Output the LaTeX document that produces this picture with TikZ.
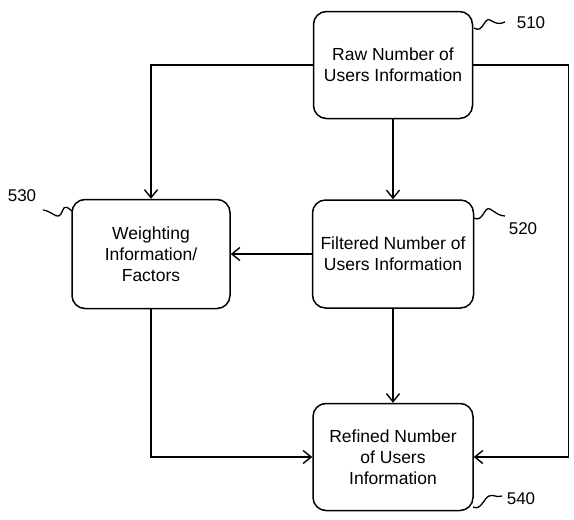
\documentclass[tikz,border=0pt]{standalone}
\usepackage{fontspec}
\setmainfont{Liberation Sans}
\usetikzlibrary{arrows.meta}
\begin{document}
\begin{tikzpicture}[x=1pt,y=-1pt,
  box/.style={draw,line width=1.5pt,rounded corners=13pt,align=center,
    font=\fontsize{17.5}{21}\selectfont,inner sep=0pt},
  arr/.style={line width=1.5pt,-{Straight Barb[length=8pt,width=13pt,line width=1.4pt]}},
  sq/.style={line width=1.3pt},
  lbl/.style={font=\fontsize{17}{20}\selectfont}]
\useasboundingbox (0,0) rectangle (574,520);
\node[box,minimum width=159pt,minimum height=107pt] (raw) at (393,65) {Raw Number of\\Users Information};
\node[box,minimum width=161pt,minimum height=108pt] (fil) at (393,254) {Filtered Number of\\Users Information};
\node[box,minimum width=158pt,minimum height=109pt] (wei) at (151,254) {Weighting\\Information/\\Factors};
\node[box,minimum width=160pt,minimum height=107pt] (ref) at (393,457) {Refined Number\\of Users\\Information};
\node[lbl] (l510) at (531,23) {510};
\node[lbl] (l520) at (523,229) {520};
\node[lbl] (l530) at (22,196) {530};
\node[lbl] (l540) at (521,499) {540};
\draw[arr] (raw.south) -- (fil.north);
\draw[arr] (fil.south) -- (ref.north);
\draw[arr] (fil.west) -- (wei.east);
\draw[arr] (raw.west) -| (wei.north);
\draw[arr] (wei.south) |- (ref.west);
\draw[arr] (raw.east) -- ++(95,0) coordinate (rc) |- (ref.east);
\draw[sq] (474,28) .. controls (483,34) and (484,17) .. (490,20) .. controls (495,23) and (499,25) .. (505,22);
\draw[sq] (474,218) .. controls (483,223) and (484,206) .. (490,209) .. controls (495,212) and (499,216) .. (505,216);
\draw[sq] (43,210) .. controls (52,211) and (57,220) .. (61,214) .. controls (64,209) and (63,203) .. (72,211);
\draw[sq] (473,507) .. controls (481,511) and (484,498) .. (489,496) .. controls (494,494) and (496,498) .. (502,496);
\end{tikzpicture}
\end{document}
